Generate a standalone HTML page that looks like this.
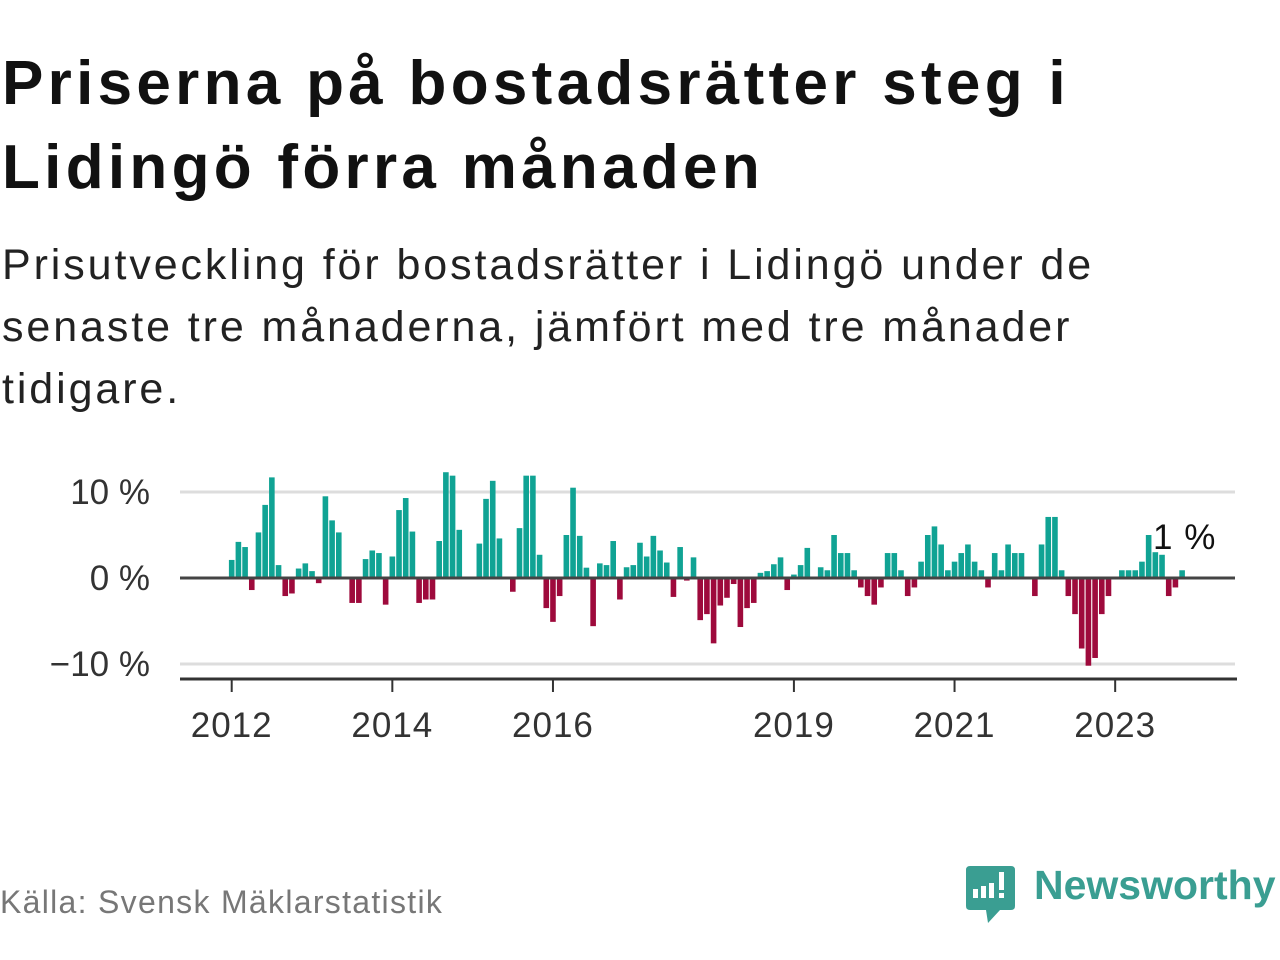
<!DOCTYPE html>
<html><head><meta charset="utf-8">
<style>
body{margin:0;width:1280px;height:960px;background:#fff;overflow:hidden;font-family:"Liberation Sans",sans-serif;position:relative}
#title{position:absolute;left:2px;top:42px;font-size:62px;font-weight:bold;line-height:84px;color:#111;letter-spacing:4.3px;white-space:nowrap}
#sub{position:absolute;left:2px;top:234px;font-size:43px;line-height:62px;color:#222;letter-spacing:2.9px;white-space:nowrap}
#src{position:absolute;left:0;top:884px;font-size:32px;color:#777;letter-spacing:1.3px}
#logo-text{position:absolute;left:1034px;top:862px;font-size:41px;font-weight:bold;color:#3a9e92}
svg{position:absolute;left:0;top:0}
</style></head><body>
<div id="title">Priserna på bostadsrätter steg i<br>Lidingö förra månaden</div>
<div id="sub">Prisutveckling för bostadsrätter i Lidingö under de<br>senaste tre månaderna, jämfört med tre månader<br>tidigare.</div>
<div id="src">Källa: Svensk Mäklarstatistik</div>
<svg width="1280" height="960">
<path d="M970 866 H1011 Q1015 866 1015 870 V906 Q1015 910 1011 910 H1000 L988 923 L986 910 H970 Q966 910 966 906 V870 Q966 866 970 866Z" fill="#3a9e92"/>
<rect x="973" y="889" width="5" height="9" fill="#fff"/><rect x="981" y="886" width="5" height="12" fill="#fff"/><rect x="989" y="883" width="5" height="15" fill="#fff"/><rect x="999" y="872" width="5" height="18" fill="#fff"/><rect x="999" y="893" width="5" height="5" fill="#fff"/>
</svg>
<div id="logo-text">Newsworthy</div>
<svg id="chart" width="1280" height="960"></svg>
<script>
const values=[2.1,4.2,3.6,-1.4,5.3,8.5,11.7,1.5,-2.1,-1.8,1.1,1.7,0.8,-0.6,9.5,6.7,5.3,0,-2.9,-2.9,2.2,3.2,2.9,-3.1,2.5,7.9,9.3,5.4,-2.9,-2.5,-2.5,4.3,12.3,11.9,5.6,0,0,4.0,9.2,11.3,4.6,0,-1.6,5.8,11.9,11.9,2.7,-3.5,-5.1,-2.1,5.0,10.5,4.9,1.2,-5.6,1.7,1.5,4.3,-2.5,1.25,1.5,4.1,2.5,4.9,3.2,1.8,-2.2,3.6,-0.3,2.4,-4.9,-4.2,-7.6,-3.2,-2.3,-0.7,-5.7,-3.5,-2.9,0.6,0.8,1.6,2.4,-1.4,0.4,1.5,3.5,0,1.25,0.9,5.0,2.9,2.9,0.9,-1.1,-2.1,-3.1,-1.1,2.9,2.9,0.9,-2.1,-1.1,1.9,5.0,6.0,3.9,0.9,1.9,2.9,3.9,1.9,0.9,-1.1,2.9,0.9,3.9,2.9,2.9,0,-2.1,3.9,7.1,7.1,0.9,-2.1,-4.2,-8.2,-10.2,-9.3,-4.2,-2.1,0,0.9,0.9,0.9,1.9,5.0,3.0,2.7,-2.1,-1.1,0.9];
const yTicks=[10,0,-10];
const yTickLabels=["10 %","0 %","\u221210 %"];
const xYears=[2012,2014,2016,2019,2021,2023];
const startYear=2012;
const lastLabel="1 %";
const NS="http://www.w3.org/2000/svg";
const svg=document.getElementById('chart');
function y(v){return 578-v*8.6;}
function xm(i){return 231.7+i*6.693;}
function xYear(yr){return xm((yr-startYear)*12);}
function mk(t,a){const e=document.createElementNS(NS,t);for(const k in a)e.setAttribute(k,a[k]);svg.appendChild(e);return e;}
yTicks.forEach((t,k)=>{
  if(t!==0){const g=mk('line',{x1:180,x2:1235,y1:y(t),y2:y(t),stroke:'#ddd','stroke-width':3});
  
  }
  const l=mk('text',{x:150,y:y(t)+12,'text-anchor':'end','font-size':35,fill:'#333','font-family':'Liberation Sans, sans-serif'});
  l.textContent=yTickLabels[k];
  
  
});
values.forEach((v,i)=>{
  if(v===0)return;
  const r=mk('rect',{x:xm(i)-2.8,y:Math.min(y(v),y(0)),width:5.6,height:Math.abs(y(v)-y(0)),fill:v>0?'#10a394':'#9e0a3c'});
  
  
});
const z=mk('line',{x1:180,x2:1235,y1:y(0),y2:y(0),stroke:'#444','stroke-width':3});


const ax=mk('line',{x1:180,x2:1237,y1:679,y2:679,stroke:'#333','stroke-width':3});


xYears.forEach(yr=>{
  const t=mk('line',{x1:xYear(yr),x2:xYear(yr),y1:679,y2:692,stroke:'#333','stroke-width':2});
  
  
  const l=mk('text',{x:xYear(yr),y:737,'text-anchor':'middle','font-size':35,fill:'#333','font-family':'Liberation Sans, sans-serif','letter-spacing':1});
  l.textContent=yr;
  
  
});
const lab=mk('text',{x:1153,y:549,'font-size':35,fill:'#111','font-family':'Liberation Sans, sans-serif','letter-spacing':1});
lab.textContent=lastLabel;


</script>
</body></html>
